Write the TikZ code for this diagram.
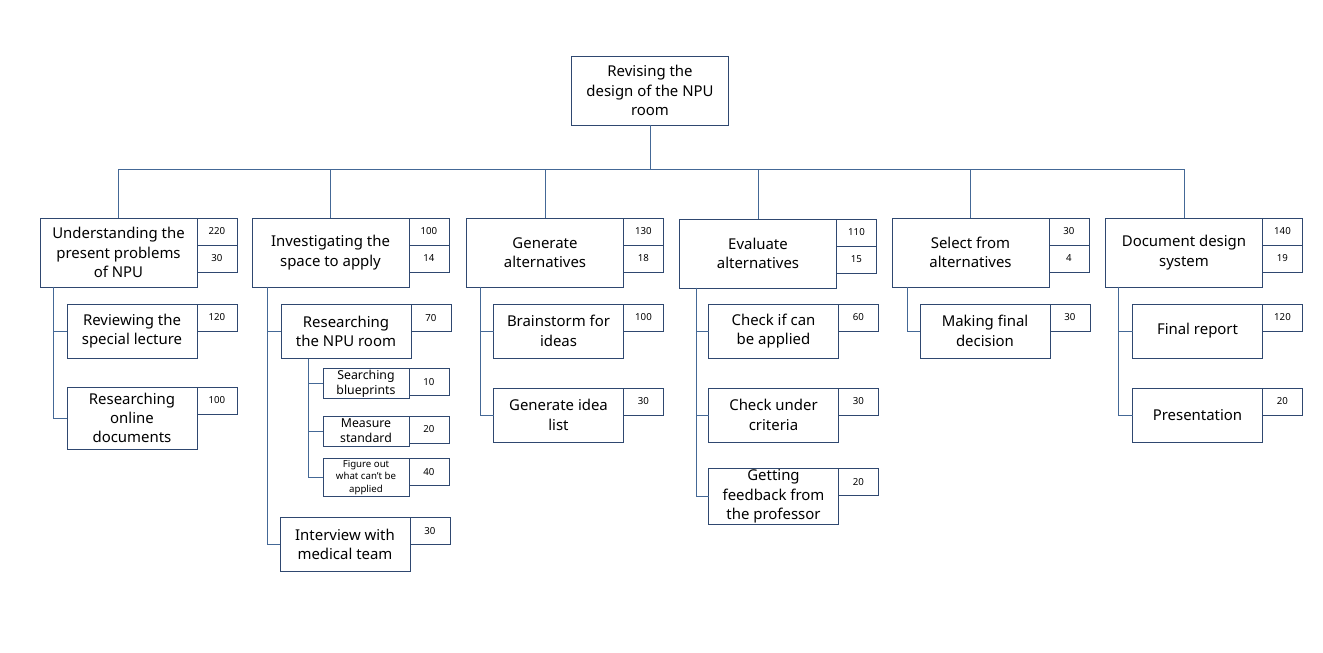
\documentclass[tikz,border=0pt]{standalone}
\usepackage{fontspec}
\setmainfont{Noto Sans}
\usetikzlibrary{positioning}
\definecolor{boxc}{RGB}{47,72,112}
\definecolor{linec}{RGB}{68,104,150}

\begin{document}
\begin{tikzpicture}[x=0.02cm,y=-0.02cm,
box/.style={draw=boxc,line width=0.5pt,outer sep=0pt,inner sep=1pt,align=center,font=\fontsize{8.5}{11}\selectfont,minimum width=3.14cm,minimum height=1.38cm},
sub/.style={box,minimum width=2.6cm,minimum height=1.08cm},
leaf/.style={box,font=\fontsize{7}{8.5}\selectfont,minimum width=1.72cm,minimum height=0.54cm},
num/.style={draw=boxc,line width=0.5pt,outer sep=0pt,inner sep=0pt,font=\fontsize{5.5}{6.5}\selectfont,minimum width=0.8cm,minimum height=0.54cm},
link/.style={draw=linec,line width=0.5pt}]
\useasboundingbox (0,0) rectangle (1323,653);
% top
\node[box] (root) at (650,90.5) {Revising the\\design of the NPU\\room};
% level 1
\node[box] (a) at (118.5,252.5) {Understanding the\\present problems\\of NPU};
\node[box] (b) at (330.5,252.5) {Investigating the\\space to apply};
\node[box] (c) at (545,252.5) {Generate\\alternatives};
\node[box] (d) at (758,253.5) {Evaluate\\alternatives};
\node[box] (e) at (970.5,252.5) {Select from\\alternatives};
\node[box] (f) at (1184,252.5) {Document design\\system};
\draw[link] (root.south) -- ++(0,44) coordinate (bus);
\foreach \k in {a,b,c,d,e,f} \draw[link] (bus) -| (\k.north);
% level 1 numbers
\node[num,anchor=north west] (a-n1) at (a.north east) {220};
\node[num,below=0pt of a-n1] (a-n2) {30};
\node[num,anchor=north west] (b-n1) at (b.north east) {100};
\node[num,below=0pt of b-n1] (b-n2) {14};
\node[num,anchor=north west] (c-n1) at (c.north east) {130};
\node[num,below=0pt of c-n1] (c-n2) {18};
\node[num,anchor=north west] (d-n1) at (d.north east) {110};
\node[num,below=0pt of d-n1] (d-n2) {15};
\node[num,anchor=north west] (e-n1) at (e.north east) {30};
\node[num,below=0pt of e-n1] (e-n2) {4};
\node[num,anchor=north west] (f-n1) at (f.north east) {140};
\node[num,below=0pt of f-n1] (f-n2) {19};
% level 2
\node[sub] (a1) at (132,331) {Reviewing the\\special lecture};
\node[sub,minimum height=1.24cm] (a2) at (132,418) {Researching\\online\\documents};
\node[sub] (b1) at (346,331.5) {Researching\\the NPU room};
\node[sub] (b2) at (345,544.5) {Interview with\\medical team};
\node[sub] (c1) at (558.5,331) {Brainstorm for\\ideas};
\node[sub] (c2) at (558.5,415) {Generate idea\\list};
\node[sub] (d1) at (773.5,331) {Check if can\\be applied};
\node[sub] (d2) at (773.5,415) {Check under\\criteria};
\node[sub] (d3) at (773.5,496.5) {Getting\\feedback from\\the professor};
\node[sub] (e1) at (985,331) {Making final\\decision};
\node[sub] (f1) at (1197.5,331) {Final report};
\node[sub] (f2) at (1197.5,415) {Presentation};
\foreach \k/\v in {a1/120,a2/100,b1/70,b2/30,c1/100,c2/30,d1/60,d2/30,d3/20,e1/30,f1/120,f2/20}
  \node[num,anchor=north west] (\k-n) at (\k.north east) {\v};
% level 3
\node[leaf] (b1a) at (366,383.5) {Searching\\blueprints};
\node[leaf,minimum height=0.6cm] (b1b) at (366,431) {Measure\\standard};
\node[leaf,minimum height=0.66cm,font=\fontsize{5.5}{7}\selectfont] (b1c) at (366,477.5) {Figure out\\what can't be\\applied};
\foreach \k/\v in {b1a/10,b1b/20,b1c/40}
  \node[num,anchor=north west] (\k-n) at (\k.north east) {\v};
% connectors
\foreach \k in {a1,a2} \draw[link] (a.south west) ++(13,0) |- (\k.west);
\foreach \k in {b1,b2} \draw[link] (b.south west) ++(15,0) |- (\k.west);
\foreach \k in {c1,c2} \draw[link] (c.south west) ++(14,0) |- (\k.west);
\foreach \k in {d1,d2,d3} \draw[link] (d.south west) ++(17,0) |- (\k.west);
\draw[link] (e.south west) ++(15,0) |- (e1.west);
\foreach \k in {f1,f2} \draw[link] (f.south west) ++(13,0) |- (\k.west);
\foreach \k in {b1a,b1b,b1c} \draw[link] (b1.south west) ++(27,0) |- (\k.west);
\end{tikzpicture}
\end{document}
